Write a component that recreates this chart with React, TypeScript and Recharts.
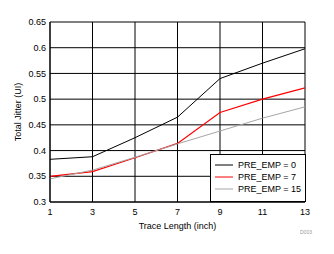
import { CartesianGrid, Legend, Line, LineChart, XAxis, YAxis } from "recharts";

const traceLength = [1, 3, 5, 7, 9, 11, 13];
const preEmp0 = [0.383, 0.388, 0.425, 0.465, 0.54, 0.57, 0.598];
const preEmp7 = [0.35, 0.359, 0.386, 0.414, 0.474, 0.5, 0.522];
const preEmp15 = [0.345, 0.362, 0.387, 0.413, 0.438, 0.463, 0.485];
const seriesNames = ["PRE_EMP = 0", "PRE_EMP = 7", "PRE_EMP = 15"];
const xTicks = [1, 3, 5, 7, 9, 11, 13];
const yTicks = [0.3, 0.35, 0.4, 0.45, 0.5, 0.55, 0.6, 0.65];

const data = traceLength.map((len, i) => ({
  len,
  p0: preEmp0[i],
  p7: preEmp7[i],
  p15: preEmp15[i],
}));

const FONT = "'Liberation Sans', Arial, sans-serif";

// eslint-disable-next-line @typescript-eslint/no-explicit-any
const LegendBox = ({ payload }: any) => {
  // keep the series order, not the alphabetical one
  const items = [...(payload || [])].sort(
    (a: any, b: any) => seriesNames.indexOf(a.value) - seriesNames.indexOf(b.value)
  );
  return (
    <div
      style={{
        boxSizing: "border-box",
        width: 96,
        height: 48,
        background: "#fff",
        border: "1px solid #000",
        padding: "4px 0 0 4px",
        fontFamily: FONT,
        fontSize: 9,
        color: "#000",
      }}
    >
      {items.map((p: any) => (
        <div key={p.value} style={{ display: "flex", alignItems: "center", height: 12 }}>
          <svg width={18} height={4} style={{ marginRight: 5 }}>
            <line x1={0} y1={2} x2={18} y2={2} stroke={p.color} strokeWidth={1} />
          </svg>
          <span>{p.value}</span>
        </div>
      ))}
    </div>
  );
};

export default function App() {
  return (
    <div style={{ position: "absolute", left: 0, top: 0, width: 334, height: 254, background: "#fff" }}>
      <LineChart width={334} height={254} data={data} margin={{ top: 22, right: 29, left: 0, bottom: 22 }}>
        <CartesianGrid stroke="#000" strokeWidth={1} />
        <XAxis
          dataKey="len"
          type="number"
          domain={[1, 13]}
          ticks={xTicks}
          height={30}
          tickLine={false}
          tickSize={5}
          tickMargin={2}
          axisLine={{ stroke: "#000" }}
          tick={{ fill: "#000", fontSize: 9, fontFamily: FONT }}
          label={{
            value: "Trace Length (inch)",
            position: "insideBottom",
            offset: 3,
            style: { fill: "#000", fontSize: 9, fontFamily: FONT },
          }}
        />
        <YAxis
          type="number"
          domain={[0.3, 0.65]}
          ticks={yTicks}
          width={50}
          tickLine={false}
          tickSize={2}
          tickMargin={2}
          axisLine={{ stroke: "#000" }}
          tick={{ fill: "#000", fontSize: 9, fontFamily: FONT }}
          label={{
            value: "Total Jitter (UI)",
            angle: -90,
            position: "insideLeft",
            offset: 18,
            style: { fill: "#000", fontSize: 9, fontFamily: FONT, textAnchor: "middle" },
          }}
        />
        <Legend
          layout="vertical"
          align="center"
          verticalAlign="middle"
          wrapperStyle={{ left: 210, top: 154, width: 96, height: 48 }}
          content={<LegendBox />}
        />
        <Line dataKey="p0" name={seriesNames[0]} stroke="#000" strokeWidth={1} dot={false} isAnimationActive={false} />
        <Line dataKey="p7" name={seriesNames[1]} stroke="#ff0000" strokeWidth={1.2} dot={false} isAnimationActive={false} />
        <Line dataKey="p15" name={seriesNames[2]} stroke="#a6a6a6" strokeWidth={1} dot={false} isAnimationActive={false} />
      </LineChart>
      <div
        style={{
          position: "absolute",
          left: 300,
          top: 229,
          fontFamily: FONT,
          fontSize: 5,
          color: "#999",
        }}
      >
        D003
      </div>
    </div>
  );
}
